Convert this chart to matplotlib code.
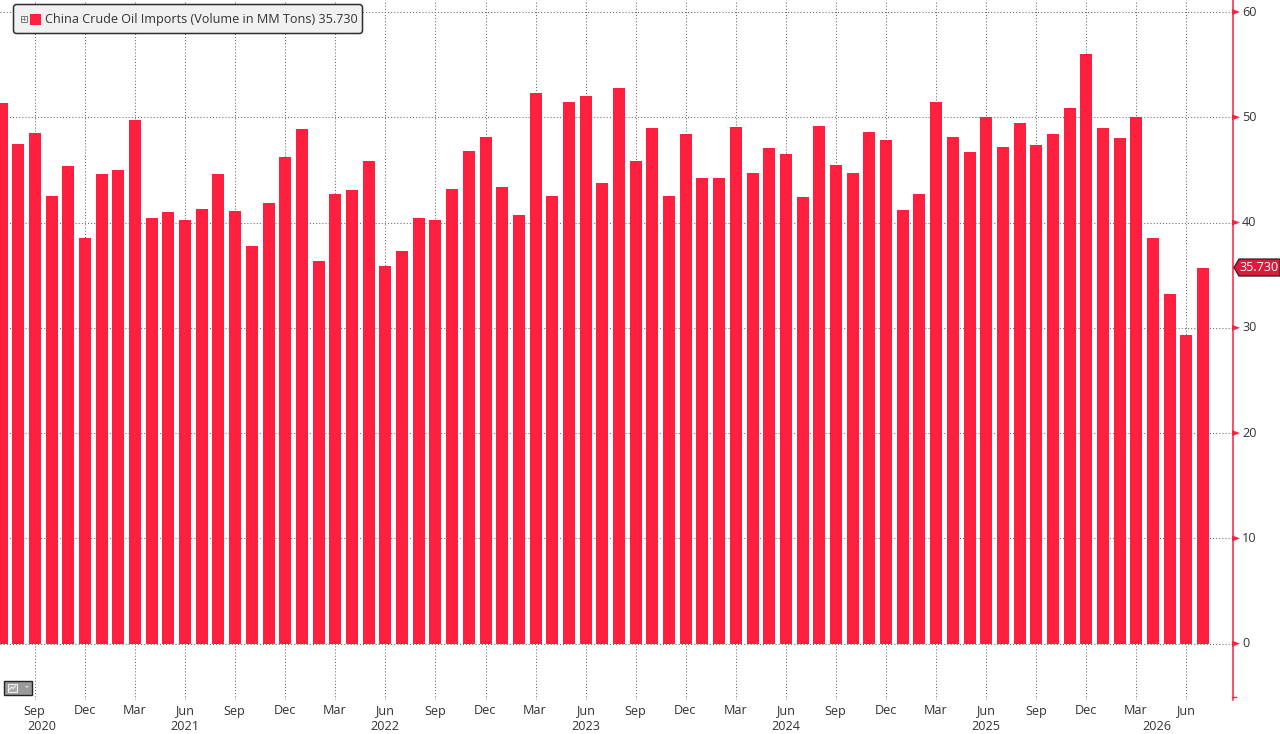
import matplotlib
matplotlib.use("Agg")
import matplotlib.pyplot as plt
from matplotlib.patches import FancyBboxPatch, Polygon, Rectangle

# monthly volumes, Jul 2020 .. Jul 2026
imports_mm_tons = [
    51.35, 47.5, 48.5, 42.55, 45.4, 38.55,
    44.65, 45.0, 49.7, 40.4, 41.0, 40.2, 41.3, 44.6, 41.1, 37.8, 41.85, 46.2,
    48.85, 36.35, 42.7, 43.1, 45.85, 35.9, 37.3, 40.4, 40.25, 43.2, 46.8, 48.1,
    43.4, 40.7, 52.35, 42.5, 51.45, 52.05, 43.75, 52.8, 45.8, 49.0, 42.5, 48.4,
    44.2, 44.2, 49.1, 44.75, 47.05, 46.5, 42.4, 49.15, 45.5, 44.75, 48.6, 47.85,
    41.2, 42.75, 51.45, 48.15, 46.7, 50.0, 47.2, 49.5, 47.35, 48.4, 50.9, 56.0,
    48.95, 48.05, 50.05, 38.55, 33.2, 29.3, 35.73,
]
month_names = ["Sep", "Dec", "Mar", "Jun"]
first_tick_idx = 2  # Sep 2020
year_labels = ["2020", "2021", "2022", "2023", "2024", "2025", "2026"]
year_label_idx = [2.4, 11, 23, 35, 47, 59, 69.25]
y_ticks = [0, 10, 20, 30, 40, 50, 60]
last_label = "35.730"
legend_text = "China Crude Oil Imports (Volume in MM Tons) 35.730"

RED = "#FF1F3F"
TXT = "#333333"
FS = 9.05
W, H = 1280, 734
plt.rcParams["font.family"] = ["Open Sans", "DejaVu Sans"]

fig = plt.figure(figsize=(W / 100, H / 100), dpi=100, facecolor="white")
ax = fig.add_axes([0, (H - 700) / H, 1232.5 / W, 700 / H])

px_per_month = 16.69
x0 = -1.5 / px_per_month
ax.set_xlim(x0, x0 + 1232.5 / px_per_month)
ax.set_ylim(-5.35, 61.14)

months = range(len(imports_mm_tons))
ax.bar(months, imports_mm_tons, width=0.72, color=RED, linewidth=0, zorder=3)

tick_idx = list(range(first_tick_idx, len(imports_mm_tons), 3))
tick_txt = [month_names[i % 4] for i in range(len(tick_idx))]
ax.set_yticks(y_ticks)
ax.set_xticks(tick_idx)
ax.set_xticklabels([])
ax.set_yticklabels([])
ax.tick_params(length=0)
ax.grid(True, color="#6a6a6a", linestyle=(0, (1, 2)), linewidth=0.75, zorder=1)
ax.set_axisbelow(True)

for side in ["top", "left", "bottom"]:
    ax.spines[side].set_visible(False)
ax.spines["right"].set_color(RED)
ax.spines["right"].set_linewidth(1.1)

# overlay in pixel coordinates
ov = fig.add_axes([0, 0, 1, 1], facecolor="none")
ov.set_xlim(0, W)
ov.set_ylim(H, 0)
ov.axis("off")

to_px = ax.transData
for i, txt in zip(tick_idx, tick_txt):
    x = to_px.transform((i, 0))[0]
    ov.text(x - 0.5, 711, txt, ha="center", va="center", fontsize=FS, color=TXT)
for i, txt in zip(year_label_idx, year_labels):
    x = to_px.transform((i, 0))[0]
    ov.text(x, 726, txt, ha="center", va="center", fontsize=FS, color=TXT)

for v in y_ticks:
    y = H - to_px.transform((0, v))[1]
    ov.add_patch(Polygon([(1232, y - 3), (1232, y + 3), (1240, y)], color=RED, lw=0))
    ov.text(1242, y, str(v), ha="left", va="center", fontsize=FS, color=TXT)
# small end tick at the bottom of the axis
ov.plot([1232, 1236], [697, 697], color=RED, lw=1)

# last value tag
tag_y = H - to_px.transform((0, imports_mm_tons[-1]))[1]
ov.add_patch(Polygon(
    [(1234, tag_y), (1239, tag_y - 8.5), (1280, tag_y - 8.5), (1280, tag_y + 8.5), (1239, tag_y + 8.5)],
    facecolor="#DE1A3A", edgecolor="#3a1a20", lw=0.9))
ov.text(1259, tag_y, last_label, ha="center", va="center", fontsize=FS, color="white")

# legend box
ov.add_patch(FancyBboxPatch((13.5, 4.5), 349, 29, boxstyle="round,pad=0,rounding_size=3",
                            facecolor="#F1F1F1", edgecolor="#2e2e2e", lw=1.1, zorder=5))
ov.add_patch(Rectangle((20.5, 15.5), 6, 6, facecolor="#F1F1F1", edgecolor="#777777", lw=0.7, zorder=6))
ov.plot([22, 25], [18.5, 18.5], color="#777777", lw=0.6, zorder=7)
ov.plot([23.5, 23.5], [17, 20], color="#777777", lw=0.6, zorder=7)
ov.add_patch(Rectangle((30, 14), 11, 11, facecolor=RED, lw=0, zorder=6))
ov.text(45, 20, legend_text, ha="left", va="center", fontsize=FS, color=TXT, zorder=6)

# small chart-type button at bottom left
ov.add_patch(Rectangle((3.5, 680.5), 28, 14, facecolor="#9a9a9a", edgecolor="#222222", lw=1))
ov.add_patch(Rectangle((8, 684), 9, 8, facecolor="#a8a8a8", edgecolor="#eeeeee", lw=0.8))
ov.plot([9.5, 11.5, 13, 15.5], [689.5, 687, 688.5, 686], color="white", lw=0.7)
ov.add_patch(Polygon([(25, 686), (29, 686), (27, 688)], color="#dddddd", lw=0))

fig.savefig("out.png", dpi=100)
